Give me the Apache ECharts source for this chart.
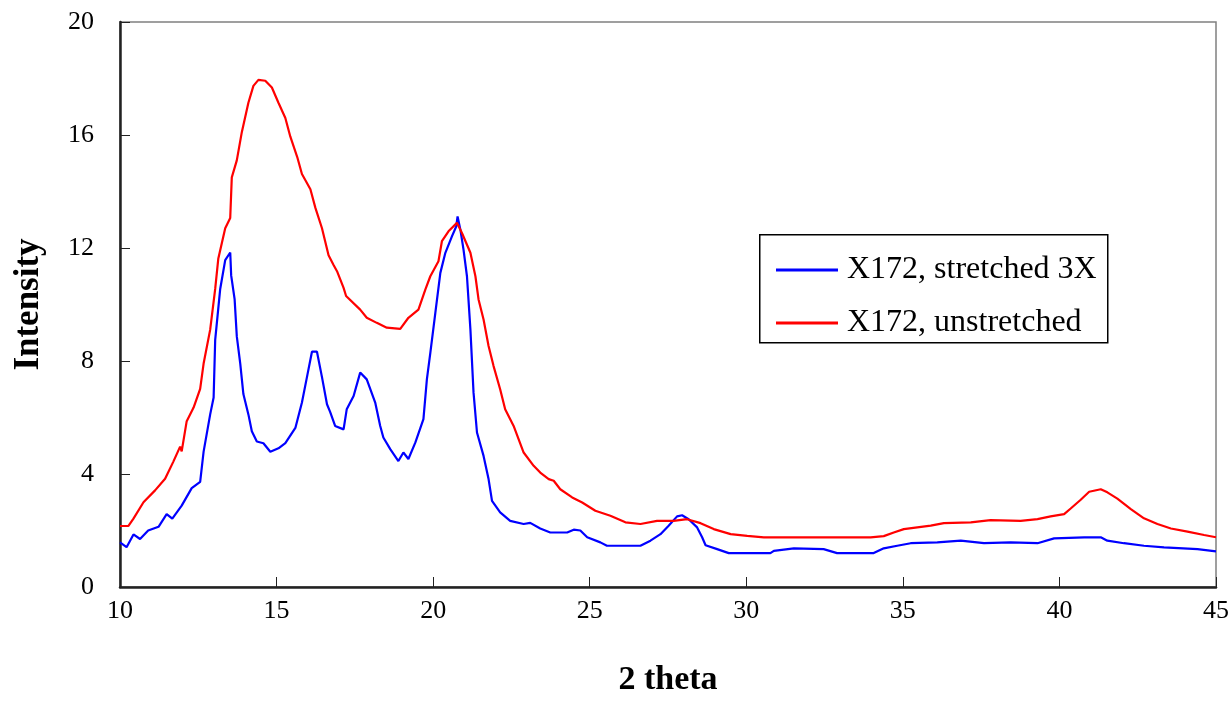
<!DOCTYPE html>
<html>
<head>
<meta charset="utf-8">
<script src="https://cdn.jsdelivr.net/npm/echarts@6/dist/echarts.min.js"></script>
<style>html,body{margin:0;padding:0;background:#fff}#c{width:1232px;height:702px}</style>
</head>
<body>
<div id="c"></div>
<script>
const seriesNames = ["X172, stretched 3X", "X172, unstretched"];
const xTicks = [10, 15, 20, 25, 30, 35, 40, 45];
const yTicks = [0, 4, 8, 12, 16, 20];

const stretched = [[10,1.58],[10.21,1.41],[10.43,1.86],[10.64,1.70],[10.9,2.0],[11.23,2.13],[11.49,2.58],[11.67,2.42],[11.97,2.88],[12.29,3.5],[12.56,3.72],[12.67,4.79],[12.88,6.11],[12.99,6.71],[13.04,8.75],[13.2,10.55],[13.36,11.57],[13.52,11.84],[13.55,11.03],[13.66,10.19],[13.73,8.87],[13.84,7.91],[13.94,6.83],[14.1,6.11],[14.21,5.51],[14.37,5.15],[14.58,5.09],[14.8,4.79],[15.06,4.91],[15.28,5.09],[15.6,5.63],[15.81,6.53],[15.97,7.43],[16.13,8.33],[16.29,8.33],[16.45,7.43],[16.61,6.47],[16.71,6.2],[16.87,5.7],[17.14,5.58],[17.24,6.29],[17.46,6.76],[17.67,7.59],[17.88,7.35],[18.15,6.53],[18.31,5.7],[18.41,5.29],[18.63,4.88],[18.89,4.46],[19.05,4.76],[19.21,4.53],[19.43,5.11],[19.69,5.94],[19.8,7.35],[19.91,8.29],[20.07,9.7],[20.23,11.12],[20.39,11.83],[20.6,12.41],[20.74,12.77],[20.78,13.12],[20.87,12.65],[20.97,11.94],[21.08,11.0],[21.19,9.12],[21.29,6.88],[21.4,5.47],[21.61,4.64],[21.77,3.82],[21.88,3.05],[22.14,2.64],[22.46,2.34],[22.89,2.23],[23.1,2.27],[23.42,2.07],[23.74,1.93],[24.28,1.93],[24.49,2.03],[24.7,2.0],[24.92,1.76],[25.34,1.58],[25.55,1.46],[26.62,1.46],[26.94,1.64],[27.26,1.87],[27.52,2.17],[27.79,2.5],[27.95,2.54],[28.16,2.4],[28.43,2.11],[28.59,1.76],[28.7,1.48],[29.07,1.34],[29.44,1.2],[30.77,1.2],[30.88,1.28],[31.52,1.37],[32.47,1.34],[32.9,1.2],[34.07,1.2],[34.39,1.37],[34.82,1.46],[35.25,1.55],[36.1,1.58],[36.85,1.64],[37.59,1.55],[38.44,1.58],[39.3,1.55],[39.83,1.72],[40.79,1.76],[41.32,1.76],[41.53,1.64],[42.06,1.55],[42.7,1.46],[43.34,1.4],[44.41,1.34],[45,1.26]];

const unstretched = [[10,2.16],[10.27,2.16],[10.43,2.42],[10.75,3.0],[11.12,3.42],[11.44,3.83],[11.7,4.43],[11.92,4.97],[11.97,4.8],[12.13,5.87],[12.35,6.35],[12.56,7.01],[12.67,7.91],[12.88,9.11],[13.04,10.55],[13.14,11.63],[13.36,12.7],[13.52,13.06],[13.57,14.5],[13.73,15.1],[13.89,16.1],[14.1,17.14],[14.26,17.74],[14.42,17.95],[14.64,17.92],[14.85,17.68],[15.06,17.14],[15.28,16.6],[15.44,15.94],[15.66,15.22],[15.81,14.62],[16.08,14.08],[16.24,13.42],[16.45,12.7],[16.66,11.74],[16.82,11.4],[16.93,11.18],[17.14,10.59],[17.22,10.3],[17.67,9.82],[17.88,9.53],[18.2,9.35],[18.52,9.18],[18.95,9.14],[19.21,9.53],[19.53,9.82],[19.75,10.53],[19.91,11.0],[20.17,11.53],[20.28,12.24],[20.49,12.59],[20.76,12.89],[20.92,12.53],[21.19,11.83],[21.35,11.0],[21.45,10.18],[21.61,9.47],[21.77,8.53],[21.93,7.82],[22.14,7.0],[22.3,6.29],[22.57,5.7],[22.89,4.76],[23.21,4.29],[23.42,4.05],[23.69,3.82],[23.85,3.76],[24.06,3.46],[24.44,3.17],[24.76,2.99],[25.18,2.7],[25.66,2.52],[26.14,2.29],[26.62,2.23],[27.15,2.34],[27.68,2.34],[28.11,2.4],[28.54,2.26],[28.96,2.05],[29.5,1.87],[30.03,1.81],[30.56,1.76],[31.94,1.76],[33.97,1.76],[34.39,1.8],[34.71,1.93],[35.03,2.05],[35.46,2.11],[35.89,2.17],[36.31,2.26],[37.17,2.29],[37.8,2.37],[38.76,2.34],[39.3,2.4],[39.72,2.5],[40.15,2.58],[40.36,2.78],[40.68,3.09],[40.95,3.37],[41.32,3.46],[41.53,3.35],[41.85,3.13],[42.28,2.76],[42.7,2.43],[43.13,2.23],[43.56,2.07],[44.09,1.96],[44.62,1.84],[45,1.76]];

const serif = '"Liberation Serif", "Times New Roman", serif';
const chart = echarts.init(document.getElementById('c'), null, {renderer: 'canvas'});
chart.setOption({
  animation: false,
  backgroundColor: '#fff',
  grid: {left: 120, right: 16, top: 22, bottom: 114, show: true, borderColor: '#808080', borderWidth: 1.5, backgroundColor: 'transparent'},
  xAxis: {
    type: 'value', min: xTicks[0], max: xTicks[xTicks.length - 1], interval: 5,
    name: '2 theta', nameLocation: 'middle', nameGap: 76,
    nameTextStyle: {fontFamily: serif, fontSize: 34, fontWeight: 'bold', color: '#000'},
    axisLine: {show: true, onZero: false, lineStyle: {color: '#222', width: 2.5}},
    axisTick: {show: true, inside: true, length: 10, lineStyle: {color: '#222', width: 1}},
    axisLabel: {fontFamily: serif, fontSize: 26, color: '#000', margin: 11},
    splitLine: {show: false}
  },
  yAxis: {
    type: 'value', min: yTicks[0], max: yTicks[yTicks.length - 1], interval: 4,
    name: 'Intensity', nameLocation: 'middle', nameGap: 74, nameRotate: 90,
    nameTextStyle: {fontFamily: serif, fontSize: 35, fontWeight: 'bold', color: '#000'},
    axisLine: {show: true, lineStyle: {color: '#222', width: 2.5}},
    axisTick: {show: true, inside: true, length: 10, lineStyle: {color: '#222', width: 1}},
    axisLabel: {fontFamily: serif, fontSize: 26, color: '#000', margin: 26},
    splitLine: {show: false}
  },
  legend: {
    orient: 'vertical', left: 771, top: 249, itemWidth: 62, itemHeight: 3, itemGap: 21,
    icon: 'rect',
    textStyle: {fontFamily: serif, fontSize: 32, color: '#000', lineHeight: 32, padding: [0, 0, 0, 4]},
    data: seriesNames
  },
  graphic: [{
    type: 'rect', left: 759, top: 234, z: 100, silent: true,
    shape: {width: 348, height: 108},
    style: {fill: 'transparent', stroke: '#000', lineWidth: 1.5}
  }],
  series: [
    {name: seriesNames[0], type: 'line', data: stretched, showSymbol: false, symbol: 'none',
     lineStyle: {color: '#0000FF', width: 2.2}, itemStyle: {color: '#0000FF'}},
    {name: seriesNames[1], type: 'line', data: unstretched, showSymbol: false, symbol: 'none',
     lineStyle: {color: '#FF0000', width: 2.2}, itemStyle: {color: '#FF0000'}}
  ]
});
</script>
</body>
</html>
